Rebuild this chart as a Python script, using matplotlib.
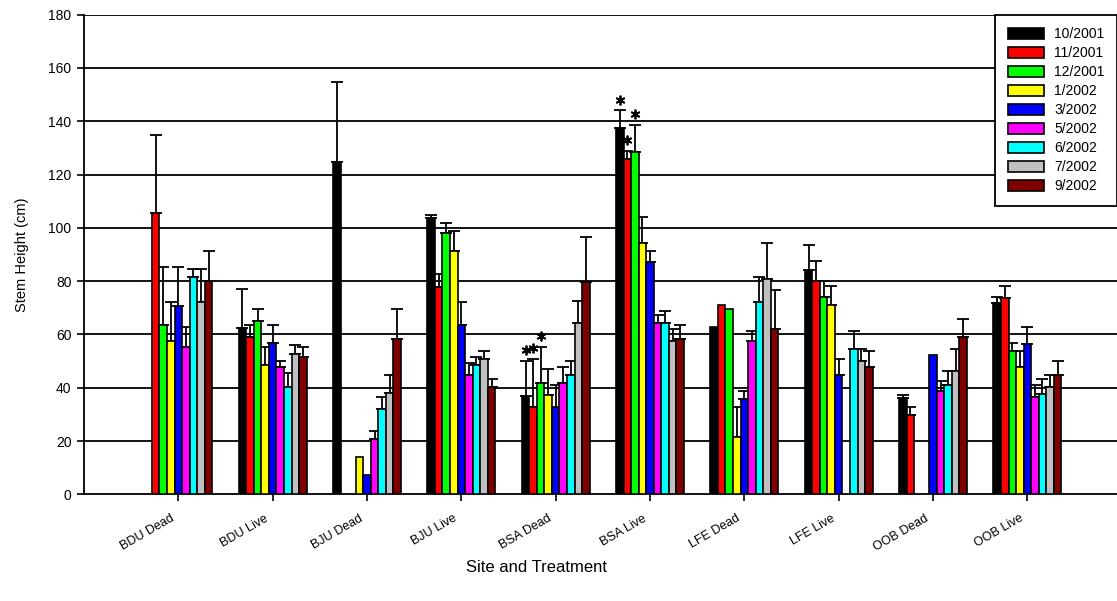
import numpy as np
import matplotlib
matplotlib.use("Agg")
import matplotlib.pyplot as plt

plt.rcParams['font.family'] = ['Liberation Sans', 'DejaVu Sans']

nan = np.nan
sites = ['BDU Dead', 'BDU Live', 'BJU Dead', 'BJU Live', 'BSA Dead',
         'BSA Live', 'LFE Dead', 'LFE Live', 'OOB Dead', 'OOB Live']
months = ['10/2001', '11/2001', '12/2001', '1/2002', '3/2002',
          '5/2002', '6/2002', '7/2002', '9/2002']
colors = ['#000000', '#FF0000', '#00FF00', '#FFFF00', '#0000FF',
          '#FF00FF', '#00FFFF', '#C0C0C0', '#800000']

# mean stem height per sampling date (cm)
h_oct01 = [nan, 62.3, 124.7, 103.6, 36.8, 137.4, 62.9, 84.0, 36.0, 71.8]
h_nov01 = [105.7, 59.0, nan, 77.7, 32.9, 125.8, 71.1, 80.1, 29.8, 73.6]
h_dec01 = [63.6, 65.2, nan, 98.2, 41.9, 128.3, 69.6, 74.2, nan, 53.8]
h_jan02 = [57.7, 48.6, 14.1, 91.5, 37.3, 94.5, 21.4, 71.2, nan, 47.7]
h_mar02 = [70.5, 56.9, 7.4, 63.6, 32.9, 87.0, 35.8, 44.8, 52.3, 56.3]
h_may02 = [55.4, 47.9, 20.8, 44.8, 41.9, 64.4, 57.7, nan, 38.9, 36.4]
h_jun02 = [81.7, 40.3, 32.1, 48.7, 44.8, 64.4, 72.0, 54.6, 41.0, 37.5]
h_jul02 = [72.0, 52.6, 38.0, 50.9, 64.4, 57.7, 80.8, 50.2, 46.4, 40.2]
h_sep02 = [80.1, 51.7, 58.4, 40.3, 79.5, 58.4, 62.1, 47.9, 59.2, 44.8]

# standard errors (upper bars only)
se_oct01 = [nan, 14.9, 29.9, 1.3, 13.4, 6.7, nan, 9.6, 1.3, 2.4]
se_nov01 = [29.3, 4.6, nan, 4.8, 18.0, 3.2, nan, 7.6, 3.1, 4.4]
se_dec01 = [21.8, 4.5, nan, 3.8, 13.5, 10.4, nan, 5.9, nan, 3.1]
se_jan02 = [14.3, 6.8, nan, 7.5, 9.8, 9.7, 11.5, 6.8, nan, 6.1]
se_mar02 = [14.9, 6.7, nan, 8.4, 8.1, 4.5, 3.1, 6.0, nan, 6.6]
se_may02 = [7.4, 2.3, 3.0, 4.6, 6.0, 2.9, 3.7, nan, 3.8, 4.6]
se_jun02 = [3.0, 5.4, 4.4, 3.0, 5.4, 4.5, 9.7, 6.7, 5.4, 5.8]
se_jul02 = [12.7, 3.6, 6.8, 3.0, 8.3, 4.3, 13.7, 4.4, 8.2, 4.7]
se_sep02 = [11.4, 3.7, 11.2, 3.0, 17.2, 5.2, 14.4, 5.9, 6.6, 5.2]

heights = [h_oct01, h_nov01, h_dec01, h_jan02, h_mar02,
           h_may02, h_jun02, h_jul02, h_sep02]
errors = [se_oct01, se_nov01, se_dec01, se_jan02, se_mar02,
          se_may02, se_jun02, se_jul02, se_sep02]

# (site index, month index) pairs flagged as significant
starred = [(4, 0), (4, 1), (4, 2), (5, 0), (5, 1), (5, 2)]

fig = plt.figure(figsize=(11.17, 6.01), dpi=100)
ax = fig.add_axes([84 / 1117, 1 - 494.3 / 601, 1 - 84 / 1117, 479.6 / 601])

x = np.arange(len(sites))
w = 0.08
bars = []
for j, (h, e, c) in enumerate(zip(heights, errors, colors)):
    h = np.array(h)
    e = np.array(e)
    xs = x + (j - 4) * w
    b = ax.bar(xs, h, w, color=c, edgecolor='black', linewidth=1.2, zorder=3)
    bars.append(b)
    ok = ~np.isnan(e)
    ax.errorbar(xs[ok], h[ok], yerr=[np.zeros(ok.sum()), e[ok]], fmt='none',
                ecolor='black', elinewidth=1.3, capsize=4.5, capthick=1.3,
                zorder=2)

for i, j in starred:
    top = heights[j][i] + errors[j][i]
    ax.plot(x[i] + (j - 4) * w, top + 4, marker=(6, 2, 0), markersize=7,
            mew=1.3, color='black', zorder=4)

ax.set_xlim(-1, 9.95)
ax.set_ylim(0, 180)
ax.set_yticks(range(0, 181, 20))
for yv in range(20, 181, 20):
    ax.axhline(yv, color='black', linewidth=1.3, zorder=1)

# tick marks sit on the group centres (minor), labels slightly to the left (major)
ax.set_xticks(x, minor=True)
ax.set_xticks(x - 0.085, sites, rotation=30, ha='right',
              rotation_mode='anchor', fontsize=9)
ax.tick_params(axis='x', which='major', length=0, pad=13)
ax.tick_params(axis='x', which='minor', length=5, width=1.2)
ax.tick_params(axis='y', length=5, width=1.2, pad=4, labelsize=10)

for side in ['top', 'right']:
    ax.spines[side].set_visible(False)
for side in ['left', 'bottom']:
    ax.spines[side].set_linewidth(1.3)

ax.set_ylabel('Stem Height (cm)', fontsize=10.5, va='center')
ax.yaxis.set_label_coords(-0.06, 0.5)
ax.set_xlabel('Site and Treatment', fontsize=12, va='center')
ax.xaxis.set_label_coords(0.4376, -0.152)

leg = fig.legend(bars, months, loc='upper left',
                 bbox_to_anchor=(995 / 1117, 1 - 14.7 / 601),
                 bbox_transform=fig.transFigure, borderaxespad=0,
                 fontsize=10, handlelength=2.6, handleheight=0.8,
                 labelspacing=0.36, borderpad=0.9, handletextpad=0.75,
                 fancybox=False, framealpha=1, edgecolor='black')
leg.get_frame().set_linewidth(1.3)

fig.savefig('out.png', dpi=100)
